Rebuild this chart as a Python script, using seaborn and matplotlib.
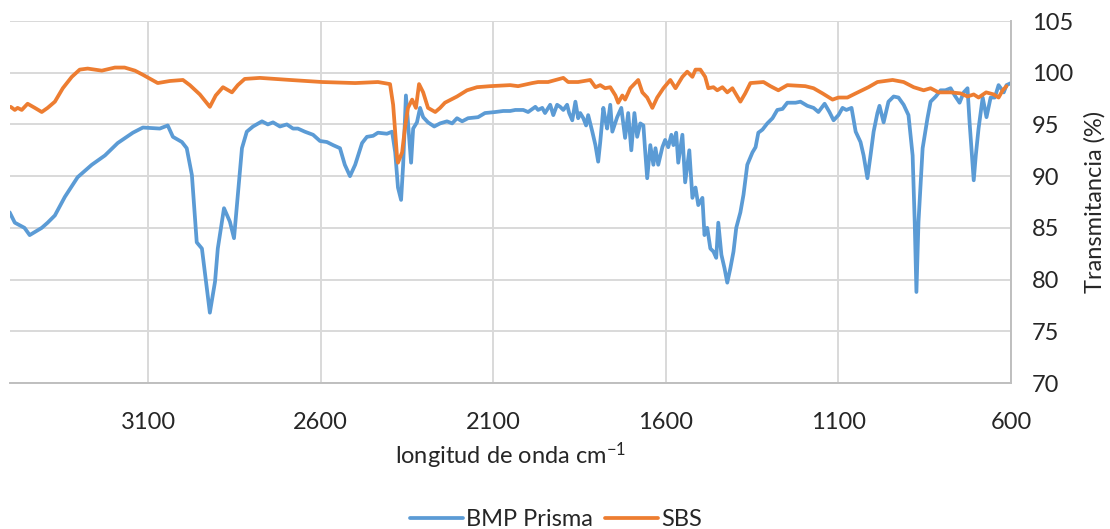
import matplotlib
matplotlib.use("Agg")
import matplotlib.pyplot as plt
import pandas as pd
import seaborn as sns

# FTIR spectra: wavenumber (cm-1) and transmittance (%)
bmp_wavenumber = [
    3501, 3486, 3458, 3443, 3428, 3408, 3391, 3370, 3341, 3304, 3263, 3225, 3188,
    3144, 3115, 3066, 3043, 3028, 3002, 2988, 2973, 2959, 2944, 2930, 2921, 2906,
    2898, 2880, 2863, 2851, 2840, 2828, 2814, 2796, 2770, 2753, 2738, 2718, 2698,
    2680, 2666, 2646, 2622, 2602, 2582, 2564, 2544, 2530, 2515, 2500, 2480, 2466,
    2448, 2434, 2408, 2393, 2384, 2376, 2367, 2361, 2353, 2347, 2338, 2332, 2321,
    2312, 2303, 2289, 2271, 2254, 2234, 2219, 2205, 2190, 2173, 2144, 2124, 2094,
    2071, 2051, 2036, 2013, 1999, 1978, 1970, 1958, 1950, 1935, 1926, 1915, 1906,
    1897, 1886, 1880, 1871, 1862, 1854, 1848, 1839, 1831, 1825, 1813, 1804, 1796,
    1790, 1781, 1776, 1770, 1761, 1755, 1741, 1729, 1718, 1709, 1700, 1691, 1683,
    1674, 1665, 1660, 1654, 1645, 1636, 1630, 1622, 1610, 1602, 1593, 1584, 1578,
    1570, 1564, 1552, 1544, 1532, 1523, 1514, 1506, 1494, 1488, 1480, 1471, 1462,
    1454, 1448, 1439, 1430, 1422, 1413, 1404, 1396, 1384, 1375, 1364, 1349, 1340,
    1332, 1320, 1306, 1291, 1277, 1262, 1248, 1224, 1210, 1190, 1172, 1158, 1140,
    1126, 1114, 1100, 1088, 1077, 1062, 1050, 1036, 1027, 1016, 1007, 998, 987,
    981, 969, 955, 940, 926, 911, 897, 885, 879, 874, 868, 856, 842, 833, 818, 804,
    790, 775, 763, 749, 737, 726, 720, 708, 702, 694, 682, 671, 659, 647, 636, 621,
    613, 600,
]
bmp_transmittance = [
    86.5, 85.5, 85.0, 84.3, 84.6, 85.0, 85.5, 86.2, 88.0, 89.9, 91.1, 92.0, 93.2,
    94.2, 94.7, 94.6, 94.9, 93.8, 93.3, 92.7, 90.1, 83.6, 83.0, 79.2, 76.8, 79.8,
    83.0, 86.9, 85.6, 84.0, 88.2, 92.7, 94.3, 94.8, 95.3, 95.0, 95.2, 94.8, 95.0,
    94.6, 94.6, 94.3, 94.0, 93.4, 93.3, 93.0, 92.7, 91.1, 90.0, 91.1, 93.2, 93.8,
    93.9, 94.2, 94.1, 94.3, 92.3, 88.9, 87.7, 91.1, 97.8, 95.2, 91.3, 94.6, 95.2,
    96.6, 95.7, 95.2, 94.8, 95.1, 95.3, 95.1, 95.6, 95.3, 95.6, 95.7, 96.1, 96.2,
    96.3, 96.3, 96.4, 96.4, 96.2, 96.7, 96.4, 96.6, 96.1, 96.9, 95.9, 96.9, 96.7,
    96.4, 96.9, 96.1, 95.4, 97.2, 95.6, 96.1, 95.6, 94.9, 95.9, 94.3, 93.0, 91.4,
    93.3, 96.6, 95.6, 94.6, 96.9, 94.3, 95.7, 96.6, 93.7, 96.1, 92.5, 96.1, 93.8,
    95.1, 94.9, 92.5, 89.8, 93.0, 91.1, 92.7, 91.1, 92.8, 93.5, 92.8, 94.0, 93.0,
    94.2, 91.3, 94.0, 89.4, 92.5, 87.9, 88.9, 87.2, 87.9, 84.3, 85.0, 83.0, 82.7,
    82.1, 85.5, 82.4, 81.1, 79.7, 81.1, 82.7, 85.0, 86.5, 88.2, 91.1, 92.3, 92.8,
    94.2, 94.5, 95.1, 95.6, 96.4, 96.5, 97.1, 97.1, 97.2, 96.8, 96.6, 96.2, 97.0,
    96.2, 95.4, 95.9, 96.6, 96.4, 96.6, 94.3, 93.3, 92.0, 89.8, 92.0, 94.3, 96.1,
    96.8, 95.2, 97.2, 97.7, 97.6, 96.9, 95.9, 92.0, 85.6, 78.8, 85.6, 92.7, 95.6,
    97.2, 97.7, 98.3, 98.3, 98.5, 97.8, 97.1, 98.1, 98.5, 95.2, 89.6, 92.0, 94.6,
    97.6, 95.7, 97.6, 97.6, 98.8, 98.1, 98.8, 99.0,
]
sbs_wavenumber = [
    3498, 3486, 3478, 3466, 3449, 3428, 3408, 3391, 3370, 3347, 3321, 3298, 3275,
    3234, 3196, 3168, 3138, 3115, 3072, 3037, 2999, 2979, 2950, 2921, 2904, 2883,
    2857, 2840, 2820, 2776, 2689, 2596, 2500, 2434, 2399, 2390, 2379, 2376, 2364,
    2356, 2347, 2335, 2324, 2315, 2303, 2289, 2268, 2254, 2240, 2205, 2176, 2147,
    2109, 2051, 2028, 1987, 1970, 1941, 1897, 1883, 1854, 1819, 1804, 1790, 1776,
    1761, 1746, 1738, 1726, 1718, 1703, 1680, 1668, 1654, 1639, 1625, 1607, 1587,
    1572, 1552, 1538, 1523, 1514, 1500, 1486, 1477, 1462, 1451, 1436, 1422, 1407,
    1384, 1370, 1355, 1317, 1297, 1274, 1248, 1196, 1172, 1146, 1117, 1100, 1074,
    1050, 1013, 987, 943, 911, 882, 853, 833, 810, 775, 746, 726, 708, 694, 672,
    650, 636, 624, 613,
]
sbs_transmittance = [
    96.7, 96.4, 96.6, 96.4, 97.0, 96.6, 96.2, 96.6, 97.2, 98.5, 99.6, 100.3, 100.4,
    100.2, 100.5, 100.5, 100.2, 99.8, 99.0, 99.2, 99.3, 98.8, 97.9, 96.7, 97.8, 98.6,
    98.1, 98.8, 99.4, 99.5, 99.3, 99.1, 99.0, 99.1, 98.9, 96.9, 92.0, 91.3, 92.3,
    94.6, 96.6, 97.4, 96.6, 98.9, 98.1, 96.6, 96.2, 96.6, 97.1, 97.7, 98.3, 98.6,
    98.7, 98.8, 98.7, 99.0, 99.1, 99.1, 99.5, 99.1, 99.1, 99.3, 98.6, 98.8, 98.5,
    98.6, 97.8, 97.1, 97.8, 97.4, 98.5, 99.3, 98.1, 97.6, 96.6, 97.6, 98.5, 99.3,
    98.5, 99.6, 100.1, 99.6, 100.3, 100.3, 99.6, 98.5, 98.6, 98.3, 98.6, 98.1, 98.5,
    97.2, 98.0, 99.0, 99.1, 98.7, 98.3, 98.8, 98.7, 98.5, 98.0, 97.4, 97.6, 97.6,
    98.0, 98.6, 99.1, 99.3, 99.1, 98.6, 98.3, 98.5, 98.1, 98.1, 98.0, 97.7, 97.9,
    97.6, 98.1, 97.9, 97.6, 98.3, 98.7,
]

series_names = ["BMP Prisma", "SBS"]
series_colors = ["#5B9BD5", "#ED7D31"]
x_ticks = [3100, 2600, 2100, 1600, 1100, 600]
y_ticks = [70, 75, 80, 85, 90, 95, 100, 105]
x_label = "longitud de onda cm$^{-1}$"
y_label = "Transmitancia (%)"

sns.set_theme(style="white")
plt.rcParams["font.family"] = ["Lato", "DejaVu Sans"]
plt.rcParams["mathtext.default"] = "regular"
plt.rcParams["mathtext.fontset"] = "custom"
plt.rcParams["mathtext.rm"] = "Lato"

spectra = pd.concat(
    [
        pd.DataFrame({"wn": bmp_wavenumber, "T": bmp_transmittance, "serie": series_names[0]}),
        pd.DataFrame({"wn": sbs_wavenumber, "T": sbs_transmittance, "serie": series_names[1]}),
    ],
    ignore_index=True,
)

fig, ax = plt.subplots(figsize=(11.1, 5.29), dpi=100)
fig.subplots_adjust(left=10 / 1110, right=1011 / 1110, top=1 - 21 / 529, bottom=1 - 383 / 529)

sns.lineplot(
    data=spectra, x="wn", y="T", hue="serie", hue_order=series_names,
    palette=dict(zip(series_names, series_colors)),
    estimator=None, sort=False, linewidth=2.7, ax=ax,
)

ax.set_xlim(3500, 600)
ax.set_ylim(70, 105)
ax.set_xticks(x_ticks)
ax.set_yticks(y_ticks)
ax.yaxis.tick_right()
ax.yaxis.set_label_position("right")

ax.grid(True, color="#D9D9D9", linewidth=1.4)
ax.set_axisbelow(True)
for side in ("top", "left"):
    ax.spines[side].set_visible(False)
for side in ("bottom", "right"):
    ax.spines[side].set_color("#BFBFBF")
    ax.spines[side].set_linewidth(1.4)

text_color = "#262626"
font_size = 17
ax.tick_params(axis="x", length=0, pad=21, labelsize=font_size, labelcolor=text_color)
ax.tick_params(axis="y", length=0, pad=15, labelsize=font_size, labelcolor=text_color)
ax.set_xlabel(x_label, fontsize=font_size, color=text_color, labelpad=5)
ax.set_ylabel(y_label, fontsize=font_size, color=text_color, labelpad=8)

handles, labels = ax.get_legend_handles_labels()
ax.get_legend().remove()
fig.legend(
    handles, labels, loc="lower center", bbox_to_anchor=(556 / 1110, -0.043),
    ncol=2, frameon=False, fontsize=font_size, handlelength=2.25, columnspacing=0.5,
    handletextpad=0.15, labelcolor=text_color,
)

fig.savefig("out.png", dpi=100)
